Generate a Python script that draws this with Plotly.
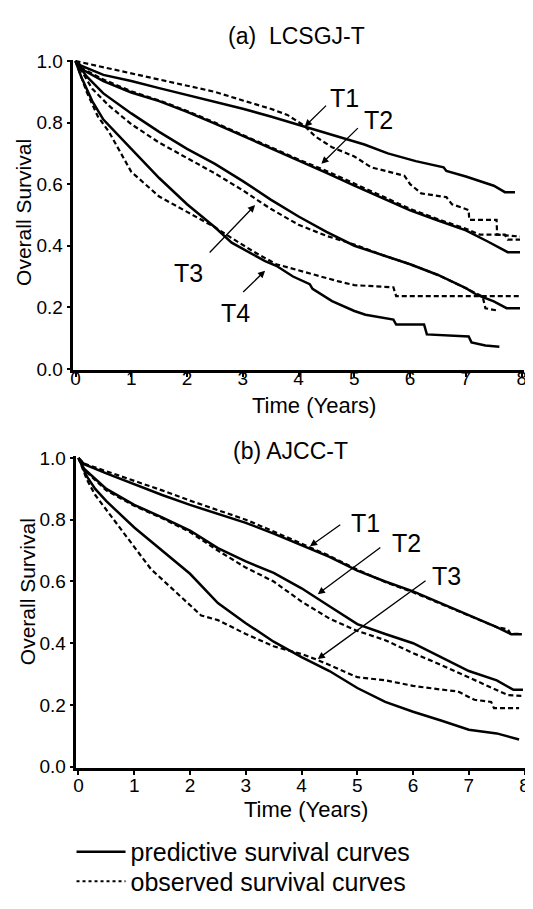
import plotly.graph_objects as go

FONT = "Liberation Sans, Arial, Helvetica, sans-serif"

# ---------------- (a) LCSGJ-T : survival ----------------
a_t1_pred_x = [0, 0.1, 0.5, 1.0, 1.5, 2.0, 2.5, 3.0, 3.5, 4.1, 4.5, 5.0, 5.18, 5.6, 6.1, 6.6, 6.65, 7.0, 7.25, 7.5, 7.7, 7.88]
a_t1_pred_y = [1.0, 0.985, 0.955, 0.935, 0.912, 0.89, 0.868, 0.845, 0.82, 0.787, 0.765, 0.737, 0.729, 0.70, 0.675, 0.655, 0.643, 0.625, 0.611, 0.595, 0.574, 0.574]
a_t1_obs_x = [0, 0.3, 0.6, 1.0, 1.5, 2.0, 2.5, 3.0, 3.5, 3.8, 4.1, 4.3, 4.6, 5.0, 5.3, 5.9, 6.0, 6.2, 6.65, 6.75, 7.05, 7.06, 7.55, 7.56, 7.97]
a_t1_obs_y = [1.0, 0.988, 0.977, 0.962, 0.94, 0.92, 0.90, 0.872, 0.845, 0.825, 0.79, 0.755, 0.72, 0.69, 0.655, 0.627, 0.60, 0.57, 0.558, 0.535, 0.516, 0.484, 0.484, 0.436, 0.43]

a_t2_pred_x = [0, 0.1, 0.5, 1.0, 1.5, 2.0, 2.5, 3.0, 3.5, 4.0, 4.5, 5.0, 5.5, 6.0, 6.5, 7.0, 7.4, 7.75, 7.97]
a_t2_pred_y = [1.0, 0.975, 0.935, 0.898, 0.87, 0.835, 0.797, 0.757, 0.717, 0.678, 0.637, 0.595, 0.555, 0.515, 0.482, 0.45, 0.413, 0.379, 0.379]
a_t2_obs_x = [0, 0.1, 0.5, 1.0, 1.5, 2.0, 2.5, 3.0, 3.5, 4.0, 4.5, 5.0, 5.5, 6.0, 6.5, 7.0, 7.25, 7.7, 7.75, 7.97]
a_t2_obs_y = [1.0, 0.978, 0.94, 0.902, 0.872, 0.838, 0.80, 0.76, 0.72, 0.68, 0.643, 0.602, 0.56, 0.52, 0.486, 0.455, 0.436, 0.436, 0.42, 0.42]

a_t3_pred_x = [0, 0.2, 0.5, 1.0, 1.5, 2.0, 2.5, 3.0, 3.5, 4.0, 4.5, 5.0, 5.5, 6.0, 6.5, 7.0, 7.2, 7.5, 7.73, 7.97]
a_t3_pred_y = [1.0, 0.95, 0.895, 0.83, 0.77, 0.715, 0.666, 0.61, 0.55, 0.495, 0.445, 0.40, 0.37, 0.34, 0.305, 0.262, 0.24, 0.219, 0.197, 0.197]
a_t3_obs_x = [0, 0.3, 0.6, 1.0, 1.5, 2.0, 2.5, 3.0, 3.5, 4.0, 4.5, 5.0, 5.5, 6.0, 6.5, 7.0, 7.3, 7.35, 7.55]
a_t3_obs_y = [1.0, 0.91, 0.855, 0.795, 0.735, 0.685, 0.635, 0.58, 0.52, 0.468, 0.432, 0.404, 0.37, 0.34, 0.305, 0.262, 0.235, 0.197, 0.19]

a_t4_pred_x = [0, 0.1, 0.3, 0.5, 1.0, 1.5, 2.0, 2.5, 2.8, 3.1, 3.4, 3.6, 3.9, 4.2, 4.25, 4.6, 5.0, 5.2, 5.7, 5.75, 6.25, 6.3, 7.05, 7.1, 7.35, 7.6]
a_t4_pred_y = [1.0, 0.95, 0.87, 0.81, 0.715, 0.62, 0.535, 0.46, 0.41, 0.38, 0.35, 0.335, 0.30, 0.275, 0.26, 0.22, 0.188, 0.176, 0.16, 0.144, 0.144, 0.112, 0.105, 0.086, 0.076, 0.072]
a_t4_obs_x = [0, 0.2, 0.4, 0.6, 1.0, 1.5, 2.0, 2.5, 2.8, 3.2, 3.6, 4.0, 4.3, 4.7, 5.0, 5.7, 5.75, 7.97]
a_t4_obs_y = [1.0, 0.9, 0.82, 0.77, 0.64, 0.56, 0.51, 0.46, 0.425, 0.38, 0.34, 0.32, 0.304, 0.285, 0.272, 0.265, 0.236, 0.236]

# ---------------- (b) AJCC-T ----------------
b_t1_pred_x = [0, 0.1, 0.5, 1.0, 1.5, 2.0, 2.5, 3.0, 3.5, 4.0, 4.5, 5.0, 5.5, 6.0, 6.5, 7.0, 7.5, 7.76, 7.95]
b_t1_pred_y = [1.0, 0.98, 0.95, 0.915, 0.88, 0.848, 0.818, 0.79, 0.755, 0.718, 0.68, 0.635, 0.60, 0.568, 0.53, 0.49, 0.452, 0.429, 0.429]
b_t1_obs_x = [0, 0.1, 0.5, 1.0, 1.5, 2.0, 2.5, 3.0, 3.5, 4.0, 4.5, 5.0, 5.5, 6.0, 6.5, 7.0, 7.5, 7.7, 7.75, 7.95]
b_t1_obs_y = [1.0, 0.982, 0.957, 0.927, 0.895, 0.862, 0.83, 0.80, 0.762, 0.722, 0.683, 0.638, 0.598, 0.565, 0.527, 0.488, 0.452, 0.445, 0.43, 0.43]

b_t2_pred_x = [0, 0.1, 0.5, 1.0, 1.5, 2.0, 2.5, 3.0, 3.5, 4.0, 4.5, 5.0, 5.5, 6.0, 6.5, 7.0, 7.5, 7.8, 7.97]
b_t2_pred_y = [1.0, 0.965, 0.90, 0.848, 0.808, 0.765, 0.708, 0.665, 0.628, 0.578, 0.52, 0.462, 0.43, 0.40, 0.355, 0.31, 0.28, 0.249, 0.249]
b_t2_obs_x = [0, 0.1, 0.5, 1.0, 1.5, 2.0, 2.5, 3.0, 3.5, 4.0, 4.5, 5.0, 5.5, 6.0, 6.5, 7.0, 7.5, 7.7, 7.97]
b_t2_obs_y = [1.0, 0.962, 0.895, 0.845, 0.805, 0.76, 0.70, 0.645, 0.60, 0.535, 0.48, 0.44, 0.41, 0.368, 0.33, 0.29, 0.25, 0.232, 0.229]

b_t3_pred_x = [0, 0.15, 0.3, 0.5, 1.0, 1.5, 2.0, 2.5, 3.0, 3.5, 4.0, 4.5, 5.0, 5.5, 6.0, 6.5, 7.0, 7.5, 7.9]
b_t3_pred_y = [1.0, 0.94, 0.90, 0.86, 0.775, 0.70, 0.625, 0.53, 0.465, 0.405, 0.355, 0.31, 0.255, 0.21, 0.178, 0.15, 0.12, 0.108, 0.088]
b_t3_obs_x = [0, 0.15, 0.3, 0.55, 1.0, 1.3, 1.6, 1.8, 2.2, 2.5, 3.0, 3.5, 4.0, 4.3, 4.7, 5.0, 5.5, 6.0, 6.5, 6.8, 7.1, 7.4, 7.45, 7.9]
b_t3_obs_y = [1.0, 0.93, 0.88, 0.82, 0.71, 0.64, 0.59, 0.556, 0.49, 0.475, 0.43, 0.39, 0.365, 0.345, 0.315, 0.29, 0.28, 0.262, 0.25, 0.244, 0.217, 0.21, 0.19, 0.19]

x_ticks = [0, 1, 2, 3, 4, 5, 6, 7, 8]
y_ticks = [0.0, 0.2, 0.4, 0.6, 0.8, 1.0]

# stage label, text pos, arrow tail, arrow head (data units)
a_labels = [("T1", 4.82, 0.879, 4.52, 0.860, 4.11, 0.787),
            ("T2", 5.43, 0.809, 5.09, 0.787, 4.41, 0.666),
            ("T3", 2.03, 0.312, 2.38, 0.373, 3.22, 0.532),
            ("T4", 2.86, 0.182, 2.98, 0.245, 3.40, 0.319)]
b_labels = [("T1", 5.14, 0.790, 4.72, 0.787, 4.15, 0.714),
            ("T2", 5.89, 0.724, 5.44, 0.714, 4.29, 0.559),
            ("T3", 6.60, 0.619, 6.25, 0.606, 4.29, 0.349)]

# page body has an 8px margin, so the figure is drawn 8px smaller and
# layout positions below are given in screen pixels, then converted
OFF = 8
W, H = 533 - OFF, 909 - OFF


def px(x):
    return (x - OFF) / W


def py(y):
    return 1 - (y - OFF) / H


SOLID = dict(color="black", width=2.5)
DASHED = dict(color="black", width=2.2, dash="5px,3px")

fig = go.Figure()

series = [
    ("x", "y", a_t1_pred_x, a_t1_pred_y, SOLID), ("x", "y", a_t1_obs_x, a_t1_obs_y, DASHED),
    ("x", "y", a_t2_pred_x, a_t2_pred_y, SOLID), ("x", "y", a_t2_obs_x, a_t2_obs_y, DASHED),
    ("x", "y", a_t3_pred_x, a_t3_pred_y, SOLID), ("x", "y", a_t3_obs_x, a_t3_obs_y, DASHED),
    ("x", "y", a_t4_pred_x, a_t4_pred_y, SOLID), ("x", "y", a_t4_obs_x, a_t4_obs_y, DASHED),
    ("x2", "y2", b_t1_pred_x, b_t1_pred_y, SOLID), ("x2", "y2", b_t1_obs_x, b_t1_obs_y, DASHED),
    ("x2", "y2", b_t2_pred_x, b_t2_pred_y, SOLID), ("x2", "y2", b_t2_obs_x, b_t2_obs_y, DASHED),
    ("x2", "y2", b_t3_pred_x, b_t3_pred_y, SOLID), ("x2", "y2", b_t3_obs_x, b_t3_obs_y, DASHED),
]
for xa, ya, xs, ys, ln in series:
    fig.add_trace(go.Scatter(x=xs, y=ys, mode="lines", line=ln, xaxis=xa, yaxis=ya,
                             showlegend=False, hoverinfo="skip"))

# legend-only entries
fig.add_trace(go.Scatter(x=[None], y=[None], mode="lines", name="predictive survival curves",
                         line=dict(color="black", width=2.5), xaxis="x2", yaxis="y2", legend="legend"))
fig.add_trace(go.Scatter(x=[None], y=[None], mode="lines", name="observed survival curves",
                         line=dict(color="black", width=2, dash="dot"), xaxis="x2", yaxis="y2", legend="legend2"))

annotations = []
for xr, yr, labels in (("x", "y", a_labels), ("x2", "y2", b_labels)):
    for txt, tx, ty, ax, ay, hx, hy in labels:
        annotations.append(dict(x=tx, y=ty, xref=xr, yref=yr, text=txt, showarrow=False,
                                font=dict(family=FONT, size=25, color="black")))
        annotations.append(dict(x=hx, y=hy, ax=ax, ay=ay, xref=xr, yref=yr, axref=xr, ayref=yr,
                                text="", showarrow=True, arrowhead=2, arrowsize=1.1,
                                arrowwidth=1.3, arrowcolor="black", standoff=0))


def label(text, x, y, size, angle=0):
    return dict(text=text, x=px(x), y=py(y), xref="paper", yref="paper", showarrow=False,
                textangle=angle, xanchor="center", yanchor="middle",
                font=dict(family=FONT, size=size, color="black"))


annotations += [
    label("(a)  LCSGJ-T", 297, 27, 23),
    label("(b) AJCC-T", 291, 451, 23),
    label("Time (Years)", 314, 404, 22),
    label("Time (Years)", 306, 817, 22),
    label("Overall Survival", 21, 207, 21, -90),
    label("Overall Survival", 25, 594, 21, -90),
]

axis_common = dict(showline=True, linewidth=3, linecolor="black", showgrid=False, zeroline=False,
                   ticks="outside", tickcolor="black", tickwidth=1.5, ticklabeloverflow="allow",
                   tickfont=dict(family=FONT, size=19, color="black"))
xcommon = dict(range=[-0.05, 8.05], tickvals=x_ticks, ticklen=4, **axis_common)
ycommon = dict(range=[-0.005, 1.005], tickvals=y_ticks, tickformat=".1f", ticklen=3, **axis_common)

legend_common = dict(xanchor="left", yanchor="middle", bgcolor="rgba(0,0,0,0)", borderwidth=0,
                     itemwidth=49, font=dict(family=FONT, size=25, color="black"))

fig.update_layout(
    width=W, height=H,
    margin=dict(l=0, r=0, t=0, b=0),
    paper_bgcolor="white", plot_bgcolor="white",
    showlegend=True,
    xaxis=dict(domain=[px(71.2), px(526.4)], anchor="y", ticklabelstandoff=-15, **xcommon),
    yaxis=dict(domain=[py(368.6), py(51.4)], anchor="x", **ycommon),
    xaxis2=dict(domain=[px(74.2), px(529.4)], anchor="y2", ticklabelstandoff=-6, **xcommon),
    yaxis2=dict(domain=[py(774.6), py(456.4)], anchor="x2", **ycommon),
    legend=dict(x=px(70), y=py(860), **legend_common),
    legend2=dict(x=px(70), y=py(890), **legend_common),
    annotations=annotations,
    font=dict(family=FONT, color="black"),
)

fig.write_html("out.html")
